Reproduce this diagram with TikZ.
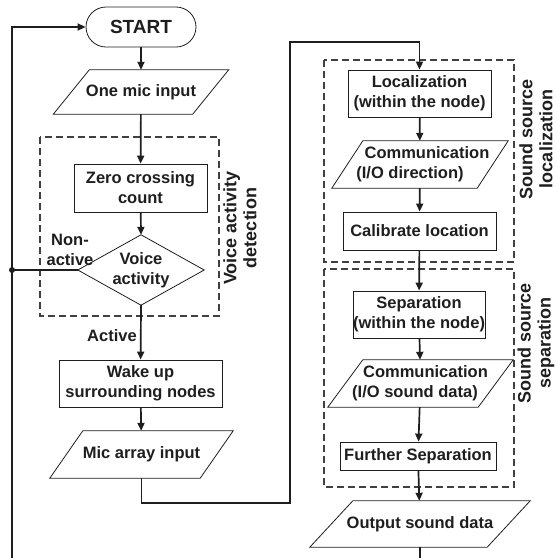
\documentclass[tikz,border=0pt]{standalone}
\usepackage{fontspec}
\setmainfont{Liberation Sans}
\usetikzlibrary{arrows.meta,calc}
\definecolor{ink}{HTML}{1E1E1E}
\newcommand\paradraw[2]{\draw[thinl] ([xshift=#2]#1.north west) -- (#1.north east) -- ([xshift=-#2]#1.south east) -- (#1.south west) -- cycle;}
\begin{document}
\begin{tikzpicture}[x=1pt,y=-1pt,
  every node/.style={font=\fontsize{16.5}{20}\selectfont\bfseries, text=ink, align=center, inner sep=0pt},
  thinl/.style={draw=ink, line width=0.8pt},
  box/.style={thinl, rectangle},
  para/.style={rectangle, draw=none},
  stadium/.style={thinl, rounded corners=20pt, font=\fontsize{19}{22}\selectfont\bfseries},
  lbl/.style={font=\fontsize{18}{20}\selectfont\bfseries},
  conn/.style={draw=ink, line width=1.7pt},
  arr/.style={conn, -{Triangle[length=8pt,width=7pt]}},
  group/.style={draw=ink!85, line width=1.6pt, dash pattern=on 7pt off 4pt}]
\useasboundingbox (0,0) rectangle (557,558);

% group boxes
\draw[group] (40,137) rectangle (219,316);
\draw[group] (324,60) rectangle (514,262);
\draw[group] (324,269) rectangle (514,487);

% left column
\node[stadium, minimum width=110pt, minimum height=40pt] (start) at (141,27) {START};
\node[para, minimum width=175pt, minimum height=44pt] (mic1) at (141,92) {One mic input};
\paradraw{mic1}{36pt}
\node[box, minimum width=133pt, minimum height=48pt] (zero) at (140.5,188) {Zero crossing\\count};
\node[para, minimum width=126pt, minimum height=70pt] (voice) at (141,270) {Voice\\activity};
\draw[thinl] (voice.north) -- (voice.east) -- (voice.south) -- (voice.west) -- cycle;
\node[box, minimum width=163pt, minimum height=47pt] (wake) at (140.5,383.5) {Wake up\\surrounding nodes};
\node[para, minimum width=183pt, minimum height=47pt] (mic2) at (141.5,454.5) {Mic array input};
\paradraw{mic2}{33pt}

% right column
\node[box, minimum width=143pt, minimum height=47pt] (loc) at (419.5,93.5) {Localization\\(within the node)};
\node[para, minimum width=176pt, minimum height=47pt] (comm1) at (420,164.5) {\hspace*{14pt}Communication\\(I/O direction)\hspace*{20pt}};
\paradraw{comm1}{31pt}
\node[box, minimum width=153pt, minimum height=38pt] (calib) at (419.5,231) {Calibrate location};
\node[box, minimum width=130pt, minimum height=47pt] (sep) at (419,314.5) {Separation\\(within the node)};
\node[para, minimum width=185pt, minimum height=47pt] (comm2) at (420.5,383.5) {\hspace*{10pt}Communication\\(I/O sound data)\hspace*{11pt}};
\paradraw{comm2}{35pt}
\node[box, minimum width=156pt, minimum height=28pt] (further) at (418,456) {Further Separation};
\node[para, minimum width=220pt, minimum height=46pt] (out) at (420,524) {Output sound data};
\paradraw{out}{43pt}

% labels
\node[lbl, rotate=90] (vadlbl) at (240,228) {Voice activity\\detection};
\node[lbl, rotate=90] (loclbl) at (536,139) {Sound source\\localization};
\node[lbl, rotate=90] (seplbl) at (536,343) {Sound source\\separation};
\node (nonact) at (70,250) {Non-\\active};
\node (act) at (112,336) {Active};

% connectors
\draw[arr] (start) -- (mic1);
\draw[arr] (mic1) -- (zero);
\draw[arr] (zero) -- (voice.north);
\draw[arr] (voice.south) -- (wake);
\draw[arr] (wake) -- (mic2);
\coordinate (c1) at (290,503);
\coordinate (c2) at (290,42);
\draw[arr] (mic2.south) |- (c1) -- (c2) -| (loc.north);
\draw[arr] (loc) -- (comm1);
\draw[arr] (comm1) -- (calib);
\draw[arr] (calib) -- (sep);
\draw[arr] (sep) -- (comm2);
\draw[arr] (comm2) -- (further);
\draw[arr] (further) -- (out);
\coordinate (loopdot) at (12,270);
\coordinate (c3) at (420,590);
\draw[conn] (voice.west) -- (loopdot);
\draw[arr] (out.south) -- (c3) -| (loopdot) |- (start.west);
\fill[ink] (loopdot) circle (3pt);
\end{tikzpicture}
\end{document}
